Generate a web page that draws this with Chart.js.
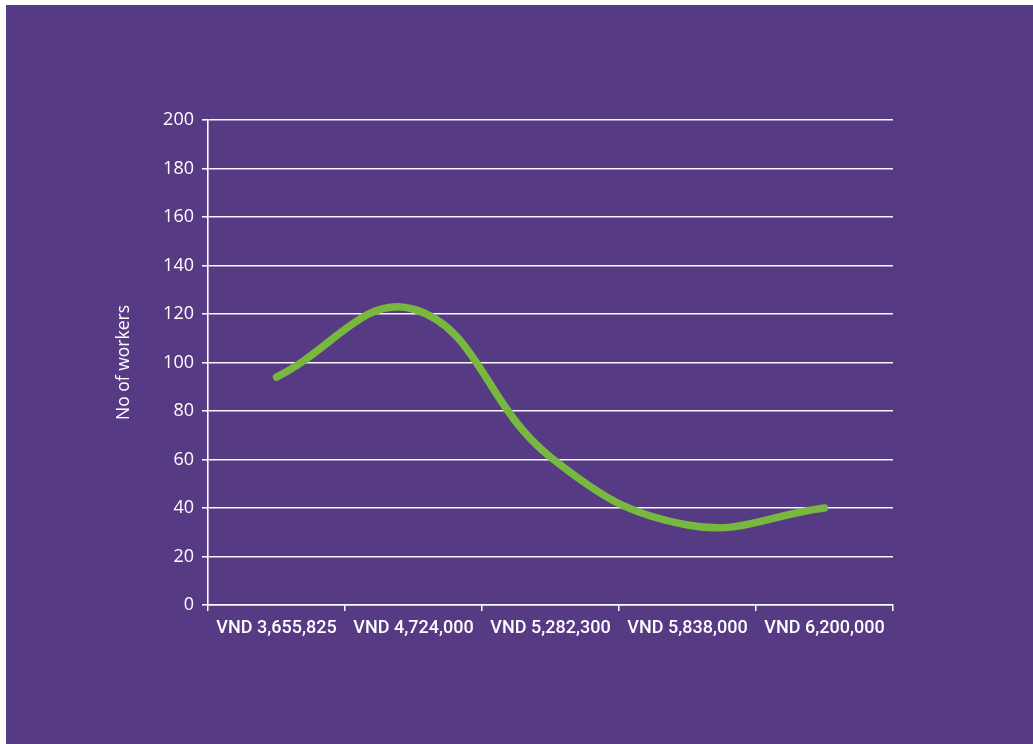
<!DOCTYPE html>
<html lang="en">
<head>
    <meta charset="UTF-8">
    <title>No of workers by wage</title>
    <script src="https://cdn.jsdelivr.net/npm/chart.js"></script>
    <style>
        body {
            margin: 0;
            background-color: #fff;
        }
        #panel {
            position: absolute;
            left: 6px;
            top: 5px;
            width: 1027px;
            height: 739px;
            background-color: #563a83;
        }
    </style>
</head>
<body>
    <div id="panel">
        <canvas id="wageChart" width="1027" height="739"></canvas>
    </div>

    <script>
        const wageLabels = ['VND 3,655,825', 'VND 4,724,000', 'VND 5,282,300', 'VND 5,838,000', 'VND 6,200,000'];
        const workerCounts = [94, 122, 61, 33, 40];
        const yTicksMin = 0;
        const yTicksMax = 200;
        const yTicksStep = 20;

        const white = '#ffffff';
        const gridWhite = 'rgba(255, 255, 255, 0.95)';

        const ctx = document.getElementById('wageChart').getContext('2d');
        const wageChart = new Chart(ctx, {
            type: 'line',
            data: {
                labels: wageLabels,
                datasets: [
                    {
                        label: 'No of workers',
                        data: workerCounts,
                        borderColor: '#78b83e',
                        borderWidth: 7.5,
                        borderCapStyle: 'round',
                        pointRadius: 0,
                        tension: 0.42,
                        fill: false
                    }
                ]
            },
            options: {
                responsive: false,
                maintainAspectRatio: false,
                animation: false,
                layout: {
                    padding: { left: 100, top: 115, right: 140, bottom: 94 }
                },
                scales: {
                    x: {
                        offset: true,
                        grid: {
                            offset: true,
                            drawOnChartArea: false,
                            drawTicks: true,
                            tickLength: 6,
                            color: white,
                            lineWidth: 1.5
                        },
                        border: { color: white, width: 1.5 },
                        ticks: {
                            color: white,
                            padding: 7,
                            maxRotation: 0,
                            font: { family: 'Roboto, sans-serif', size: 18, weight: '500' }
                        },
                        afterFit: scale => { scale.height = 45; }
                    },
                    y: {
                        min: yTicksMin,
                        max: yTicksMax,
                        grid: {
                            color: gridWhite,
                            lineWidth: 1.6,
                            tickLength: 6
                        },
                        border: { color: white, width: 1.6 },
                        ticks: {
                            stepSize: yTicksStep,
                            color: white,
                            padding: 8,
                            font: { family: '"Open Sans", sans-serif', size: 18 }
                        },
                        title: {
                            display: true,
                            text: 'No of workers',
                            color: white,
                            padding: { top: 8, bottom: 0 },
                            font: { family: '"Open Sans", sans-serif', size: 17.5 }
                        },
                        afterFit: scale => { scale.width = 102; }
                    }
                },
                plugins: {
                    legend: { display: false },
                    tooltip: { enabled: false }
                }
            }
        });
    </script>
</body>
</html>
